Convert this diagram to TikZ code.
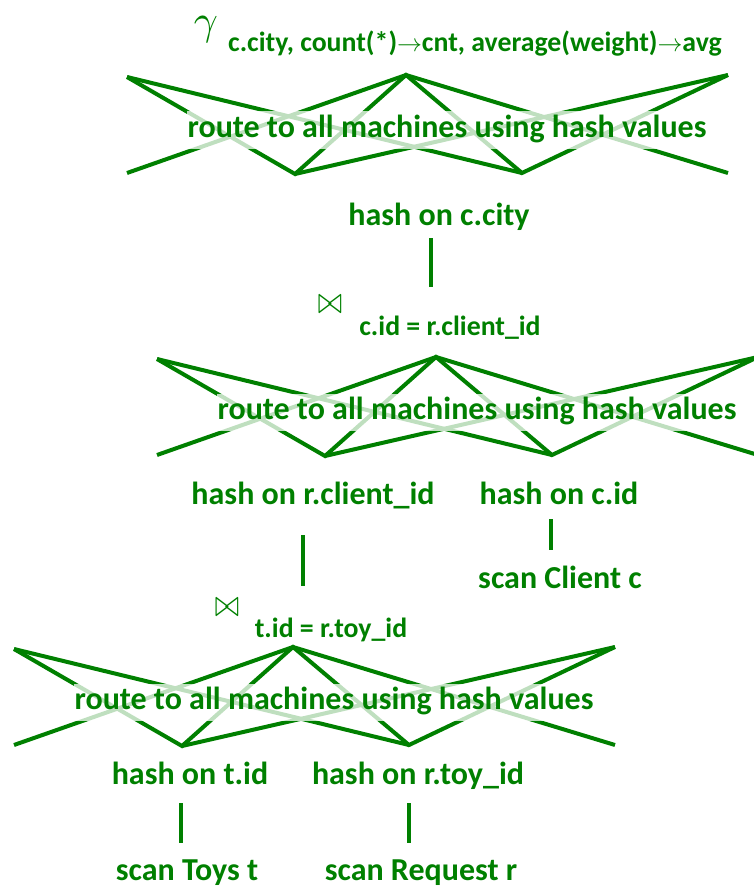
\documentclass[tikz,border=0pt]{standalone}
\usepackage{fontspec}
\usepackage{graphicx}
\setmainfont{Carlito}
\usetikzlibrary{positioning}
\definecolor{plangreen}{RGB}{0,128,0}

\begin{document}
\begin{tikzpicture}[x=1pt,y=-1pt,
    wire/.style={plangreen, line width=4pt},
    link/.style={plangreen, line width=4.5pt},
    op/.style={text=plangreen, font=\bfseries\fontsize{32}{36}\selectfont,
      inner sep=0pt, text height=22pt, text depth=7pt},
    cond/.style={text=plangreen, font=\bfseries\fontsize{27.8}{32}\selectfont,
      inner sep=0pt, text height=20pt, text depth=6pt},
    sym/.style={text=plangreen, inner sep=0pt},
    shuffle/.pic={
      \coordinate (-tl) at (0,0);
      \coordinate (-c) at (279,-2);
      \coordinate (-tr) at (601,-2);
      \coordinate (-bl) at (0,96);
      \coordinate (-b1) at (168,97);
      \coordinate (-b2) at (395,96);
      \coordinate (-br) at (601,96);
      \draw[wire] (-tl) -- (-b1) -- (-c) -- (-b2) -- (-tr);
      \draw[wire] (-tl) -- (-b2);
      \draw[wire] (-b1) -- (-tr);
      \draw[wire] (-bl) -- (-c) -- (-br);
      \node[op, fill=white, fill opacity=0.75, text opacity=1,
        inner xsep=1pt, inner ysep=4pt] at (320,53)
        {route to all machines using hash values};
    }]
  \useasboundingbox (0,0) rectangle (753,888);

  % group by on top
  \node[sym] (gamma) at (206,30) {\scalebox{4.2}{$\gamma$}};
  \node[cond] (groupby) at (475,45)
    {c.city, count(*)$\rightarrow$cnt, average(weight)$\rightarrow$avg};
  \pic (sh1) at (127,77) {shuffle};
  \node[op] (hcity) at (439,218) {hash on c.city};

  % join client with requests
  \node[sym] (join1) at (330,305) {\scalebox{2.9}[3.8]{$\bowtie$}};
  \node[cond] (cond1) at (450,328) {c.id = r.client\_id};
  \pic (sh2) at (157,359) {shuffle};
  \node[op] (hclient) at (313,497) {hash on r.client\_id};
  \node[op] (hcid) at (559,497) {hash on c.id};
  \node[op] (client) at (560,581) {scan Client c};

  % join toys with requests
  \node[sym] (join2) at (227,608) {\scalebox{2.9}[3.8]{$\bowtie$}};
  \node[cond] (cond2) at (331,630) {t.id = r.toy\_id};
  \pic (sh3) at (14,649) {shuffle};
  \node[op] (htid) at (190,777) {hash on t.id};
  \node[op] (htoy) at (418,777) {hash on r.toy\_id};
  \node[op] (toys) at (187,873) {scan Toys t};
  \node[op] (request) at (421,873) {scan Request r};

  \draw[link, shorten <=5.5pt, shorten >=27.5pt]
    ([xshift=-8pt]hcity.south) -- ([xshift=-8pt]hcity.south |- cond1.north);
  \draw[link, shorten <=23.5pt, shorten >=30.5pt]
    ([xshift=-10pt]hclient.south) -- ([xshift=-10pt]hclient.south |- cond2.north);
  \draw[link, shorten <=7.5pt, shorten >=16.5pt]
    ([xshift=-8pt]hcid.south) -- ([xshift=-8pt]hcid.south |- client.north);
  \draw[link, shorten <=11.5pt, shorten >=15.5pt]
    ([xshift=-9pt]htid.south) -- ([xshift=-9pt]htid.south |- toys.north);
  \draw[link, shorten <=11.5pt, shorten >=15.5pt]
    ([xshift=-9pt]htoy.south) -- ([xshift=-9pt]htoy.south |- request.north);
\end{tikzpicture}
\end{document}
